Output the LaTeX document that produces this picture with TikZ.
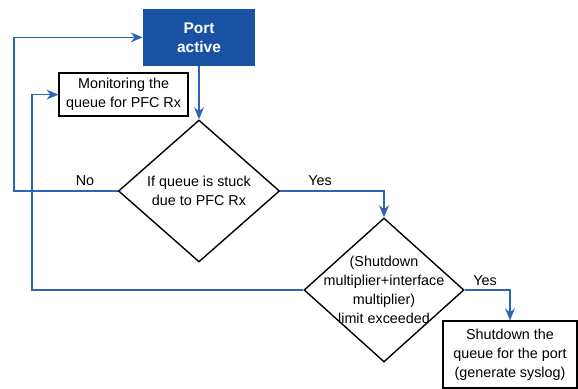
\documentclass[tikz,border=0pt]{standalone}
\usepackage{fontspec}
\setmainfont{Liberation Sans}
\usetikzlibrary{shapes,arrows.meta,positioning,calc}

\definecolor{portblue}{RGB}{25,82,163}
\definecolor{linkblue}{RGB}{45,100,182}

\begin{document}
\begin{tikzpicture}[
    procbox/.style={rectangle, draw=black, line width=1pt, fill=white,
                    align=center, inner sep=0pt, font=\fontsize{10.2}{13.5}\selectfont},
    decision/.style={diamond, draw=black, line width=1pt, fill=white, inner sep=0pt},
    dtext/.style={align=center, font=\fontsize{10.2}{13.5}\selectfont},
    flow/.style={draw=linkblue, line width=1.05pt, -{Stealth[length=8.5pt,width=7pt]}},
    tag/.style={font=\fontsize{10.2}{12}\selectfont}
]
\useasboundingbox (0,0) rectangle (14.45,9.725);

% Start
\node[rectangle, fill=portblue, text=white, minimum width=2.8cm, minimum height=1.425cm,
      align=center, font=\bfseries\fontsize{11}{13.5}\selectfont] (active) at (4.975, 8.79) {Port\\active};

% Monitoring
\node[procbox, minimum width=3.22cm, minimum height=1.07cm] (monitor) at (3.09, 7.36) {Monitoring the\\queue for PFC Rx};

% Decisions
\node[decision, minimum width=4.03cm, minimum height=3.55cm] (stuck) at (4.975, 4.95) {};
\node[dtext] (stucktxt) at (stuck) {If queue is stuck\\due to PFC Rx};

\node[decision, minimum width=4.0cm, minimum height=3.6cm] (limit) at (9.6, 2.475) {};
\node[dtext] (limittxt) at (limit) {(Shutdown\\multiplier+interface\\multiplier)\\limit exceeded};

% Shutdown
\node[procbox, minimum width=3.35cm, minimum height=1.675cm] (shut) at (12.75, 0.86) {Shutdown the\\queue for the port\\(generate syslog)};

% Turning points
\coordinate (nocorner) at (0.35, 0);
\coordinate (backcorner) at (0.8, 0);

% Arrows
\draw[flow] (active) -- (stuck);
\draw[flow] (stuck.east) -| (limit.north);
\draw[flow] (limit.east) -| (shut.north);
\draw[flow] (stuck.west) -| (nocorner |- active) -- (active.west);
\draw[flow] (limit.west) -| (backcorner |- monitor) -- (monitor.west);

% Labels
\node[tag] (nolbl) at (2.125, 5.2) {No};
\node[tag] (yeslbl) at (8.0, 5.2) {Yes};
\node[tag] (yeslbl2) at (12.125, 2.72) {Yes};

\end{tikzpicture}
\end{document}
